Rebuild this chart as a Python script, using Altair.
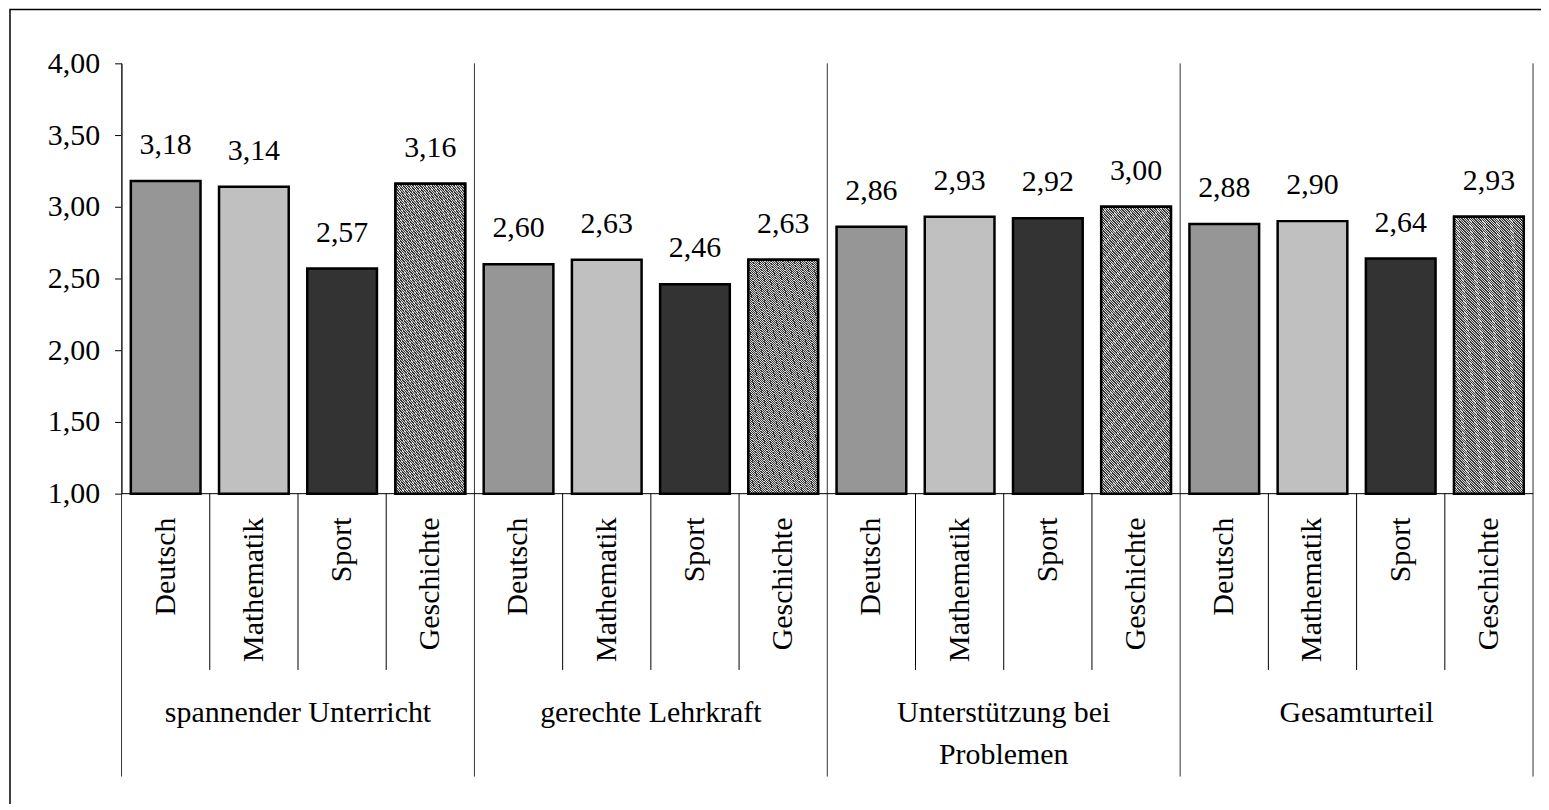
import altair as alt
import pandas as pd

# ---------------- data ----------------
groups = ["spannender Unterricht", "gerechte Lehrkraft", "Unterstützung bei\nProblemen", "Gesamturteil"]
subjects = ["Deutsch", "Mathematik", "Sport", "Geschichte"]
values_spannend = [3.18, 3.14, 2.57, 3.16]
values_gerecht = [2.60, 2.63, 2.46, 2.63]
values_unterstuetzung = [2.86, 2.93, 2.92, 3.00]
values_gesamt = [2.88, 2.90, 2.64, 2.93]
y_ticks = [1.0, 1.5, 2.0, 2.5, 3.0, 3.5, 4.0]

series = [values_spannend, values_gerecht, values_unterstuetzung, values_gesamt]
subject_colors = ["#969696", "#c0c0c0", "#333333", "#6e6e6e"]
hatched_subject = "Geschichte"

# ---------------- layout (pixels) ----------------
W = 1417          # plot width
H = 716           # plot height incl. category area
AX = 432          # pixel position of the 1,00 baseline
SUB_END = 609     # bottom of sub-category divider lines
FONT = "Liberation Serif"

rows = []
for gi, g in enumerate(groups):
    for si, s in enumerate(subjects):
        idx = gi * len(subjects) + si
        v = series[gi][si]
        rows.append(dict(group=g, subject=s, value=v,
                         label=f"{v:.2f}".replace(".", ","),
                         x0=idx + 0.105, x1=idx + 0.895, xc=idx + 0.5))
df = pd.DataFrame(rows)
n = len(df)

grp_df = pd.DataFrame({"group": groups,
                       "gc": [gi * len(subjects) + len(subjects) / 2 for gi in range(len(groups))]})
gline_df = pd.DataFrame({"gx": [gi * len(subjects) for gi in range(len(groups) + 1)]})
sline_df = pd.DataFrame({"sx": [i for i in range(1, n) if i % len(subjects) != 0]})
one = pd.DataFrame({"a": [0]})

# hatch pattern simulated with a striped linear gradient (style only)
NP = 140
stops = []
for k in range(NP):
    a = k / NP
    b = (k + 0.55) / NP
    c = (k + 1) / NP
    stops += [{"offset": a, "color": "#3a3a3a"}, {"offset": b, "color": "#3a3a3a"},
              {"offset": b, "color": "#d8d8d8"}, {"offset": c, "color": "#d8d8d8"}]
hatch = {"gradient": "linear", "x1": 1, "y1": 0, "x2": 0.693, "y2": 1.18, "stops": stops}

xs = alt.Scale(domain=[0, n], nice=False, zero=False)
ys = alt.Scale(domain=[1, 4], range=[AX, 0], nice=False, zero=False)

border = alt.Chart(one).mark_rect(fillOpacity=0, stroke="black", strokeWidth=1.5).encode(
    x=alt.value(-112), x2=alt.value(W + 60), y=alt.value(-54), y2=alt.value(H + 80))

glines = alt.Chart(gline_df).mark_rule(color="#333333", strokeWidth=1).encode(
    x=alt.X("gx:Q", scale=xs, axis=None), y=alt.value(0), y2=alt.value(H))

slines = alt.Chart(sline_df).mark_rule(color="black", strokeWidth=1).encode(
    x=alt.X("sx:Q", scale=xs, axis=None), y=alt.value(AX), y2=alt.value(SUB_END))

baseline = alt.Chart(one).mark_rule(color="black", strokeWidth=1).encode(
    x=alt.value(0), x2=alt.value(W), y=alt.value(AX))

bars = alt.Chart(df).mark_bar(stroke="black", strokeWidth=2.5).encode(
    x=alt.X("x0:Q", scale=xs, axis=None),
    x2="x1:Q",
    y=alt.Y("value:Q", scale=ys, title=None,
            axis=alt.Axis(values=y_ticks,
                          labelExpr="replace(format(datum.value, '.2f'), '.', ',')",
                          tickSize=7, tickColor="black", tickWidth=1,
                          domainColor="black", domainWidth=1,
                          labelFont=FONT, labelFontSize=30, labelColor="black",
                          labelPadding=15, grid=False)),
    y2=alt.datum(1),
    color=alt.Color("subject:N", scale=alt.Scale(domain=subjects, range=subject_colors), legend=None),
)

hatched = alt.Chart(df).transform_filter(
    alt.datum.subject == hatched_subject
).mark_bar(stroke="black", strokeWidth=2.5, fill=hatch).encode(
    x=alt.X("x0:Q", scale=xs, axis=None),
    x2="x1:Q",
    y=alt.Y("value:Q", scale=ys),
    y2=alt.datum(1),
)

vlabels = alt.Chart(df).mark_text(dy=-27, baseline="alphabetic", align="center",
                                  font=FONT, fontSize=30, color="black").encode(
    x=alt.X("xc:Q", scale=xs, axis=None),
    y=alt.Y("value:Q", scale=ys),
    text="label:N")

slabels = alt.Chart(df).mark_text(angle=270, align="right", baseline="middle",
                                  font=FONT, fontSize=30, color="black").encode(
    x=alt.X("xc:Q", scale=xs, axis=None),
    y=alt.value(AX + 24),
    text="subject:N")

glabels = alt.Chart(grp_df).mark_text(align="center", baseline="alphabetic", lineBreak="\n",
                                      lineHeight=42, font=FONT, fontSize=30, color="black").encode(
    x=alt.X("gc:Q", scale=xs, axis=None),
    y=alt.value(661),
    text="group:N")

chart = alt.layer(border, glines, slines, baseline, bars, hatched, vlabels, slabels, glabels).properties(
    width=W, height=H,
    autosize=alt.AutoSizeParams(type="none"),
    padding={"left": 114, "top": 54, "right": 8, "bottom": 26},
).configure_view(stroke=None)

chart.save("out.html", embed_options={"renderer": "svg", "actions": False})
